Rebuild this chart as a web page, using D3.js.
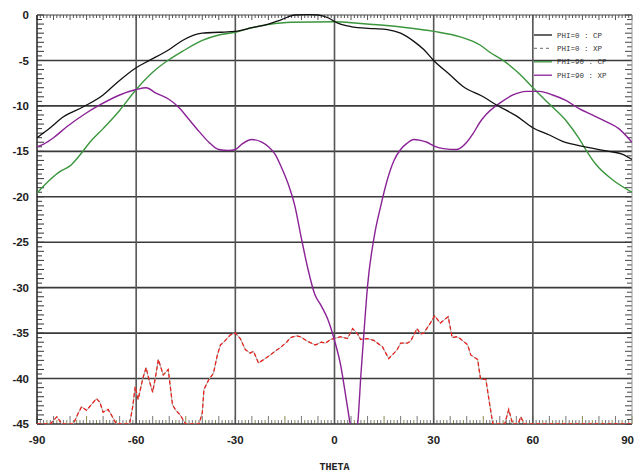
<!DOCTYPE html>
<html>
<head>
<meta charset="utf-8">
<script src="https://cdn.jsdelivr.net/npm/d3@7"></script>
<style>
  body { margin: 0; background: #fff; }
  svg { display: block; }
  .ticklabel { font-family: "Liberation Sans", Arial, sans-serif; font-weight: bold; font-size: 11.5px; fill: #222; }
  .legend text { font-family: "Liberation Mono", monospace; font-size: 7.5px; fill: #333; white-space: pre; }
</style>
</head>
<body>
<div id="chart"></div>
<script>
// 1: DATA
const xTicks = [-90, -60, -30, 0, 30, 60, 90];
const yTicks = [0, -5, -10, -15, -20, -25, -30, -35, -40, -45];

// PHI=0 : CP
const thetaCp0 = [-90, -86, -82, -76, -70, -66, -60, -56, -50, -46, -40, -35, -30, -25, -20, -16, -12, -8, -5, -2, 1, 4, 7, 12, 16, 20, 24, 27, 30, 35, 39, 45, 49, 55, 60, 65, 69, 73, 77, 83, 87, 90];
const cp0 = [-13.5, -12.4, -11.2, -10.1, -8.8, -7.5, -5.8, -5.0, -3.8, -2.8, -2.0, -1.9, -1.8, -1.4, -1.0, -0.5, 0.0, 0.05, 0.0, -0.3, -0.9, -1.2, -1.4, -1.5, -1.6, -2.0, -2.9, -3.8, -5.0, -6.6, -7.9, -9.0, -9.9, -11.1, -12.4, -13.2, -13.9, -14.3, -14.6, -15.0, -15.3, -15.9];

// PHI=0 : XP (noisy, floor at -45)
const thetaXp0 = [-90, -86, -84, -82.5, -79, -77.5, -76.5, -75, -72, -71, -70, -68.5, -67.5, -66, -62, -61, -60.3, -59.4, -58, -57, -56, -55, -54, -53.3, -51.8, -50.3, -49, -48, -46.7, -45, -41, -40, -39.5, -38, -36.6, -35.5, -34.5, -33, -31.5, -30, -28.5, -27, -25.5, -24.5, -23, -21, -19.4, -18, -16.4, -14.5, -13.3, -11.5, -10.3, -8.2, -7, -5.8, -4, -2.7, -1.2, 0, 1.8, 3.9, 5.5, 7, 7.9, 9.9, 11.9, 13, 14.5, 16.4, 18, 19, 20, 22, 23, 25, 26, 27, 29, 30.3, 32, 33, 34.4, 35.6, 37, 38, 40.3, 41.2, 43.3, 44.2, 45.8, 46.8, 47.9, 51.5, 52.7, 53.9, 55.5, 56.4, 57.3, 90];
const xp0 = [-45, -45, -44.2, -45, -45, -43.8, -43.1, -43.5, -42.2, -42.6, -43.7, -43.4, -44, -45, -45, -43, -40.9, -42.3, -40, -38.8, -40.3, -41.5, -39.5, -37.9, -39.6, -39, -42.9, -43.5, -44, -45, -45, -43.8, -41.2, -40.1, -39.4, -37.5, -36.3, -35.8, -35.2, -35, -35.6, -36.8, -37.2, -37.0, -38.3, -37.8, -37.4, -37.0, -36.6, -36.0, -35.5, -35.3, -35.4, -35.9, -36.1, -36.3, -36.0, -36.1, -35.7, -35.6, -35.4, -35.6, -34.5, -35.1, -35.7, -35.6, -35.8, -36.1, -36.5, -37.8, -37.2, -36.8, -36.1, -36.1, -35.9, -34.5, -35.1, -35.0, -33.9, -33.1, -33.9, -33.6, -33.2, -35.5, -35.4, -35.6, -36.3, -37.4, -37.9, -40.1, -40.1, -42.5, -45, -45, -43.4, -45, -45, -44.2, -45, -45];

// PHI=90 : CP
const thetaCp90 = [-90, -86, -83, -80, -77, -74, -70, -65, -60, -55, -50, -46, -40, -35, -30, -25, -20, -13, 0, 7, 14, 22, 30, 38, 44, 47, 51, 56, 60, 65, 70, 74, 76, 79, 84, 90];
const cp90 = [-19.6, -18.1, -17.2, -16.6, -15.4, -14.0, -12.5, -10.5, -8.2, -6.3, -4.9, -4.0, -2.8, -2.2, -1.9, -1.4, -1.05, -0.8, -0.75, -0.9, -1.1, -1.4, -1.8, -2.4, -3.3, -4.1, -5.0, -6.5, -8.0, -9.8, -11.6, -13.6, -14.8, -16.4, -18.1, -19.5];

// PHI=90 : XP
const thetaXp90 = [-90, -88, -85, -81, -76, -71, -65, -60, -57, -54, -50, -47, -44, -41, -38, -35, -32, -30, -28, -25, -22, -20, -18, -16, -14, -12, -10, -8, -6, -4, -2, 0, 2, 3, 4, 5, 6, 7, 8, 9, 10, 12, 14, 16, 18, 20, 22, 24, 26, 28, 30, 33, 37, 40, 42, 44, 46, 50, 54, 58, 62, 66, 70, 74, 78, 82, 86, 90];
const xp90 = [-14.5, -14.2, -13.5, -12.3, -11.0, -9.9, -8.8, -8.2, -8.0, -8.6, -9.3, -10.2, -11.5, -12.8, -14.0, -14.8, -14.9, -14.8, -14.2, -13.7, -14.0, -14.5, -15.3, -16.8, -18.6, -21.0, -24.6, -28.0, -30.7, -32.0, -33.5, -35.8, -38.8, -41.0, -43.3, -45.5, -46.5, -45.0, -39.5, -34.5, -29.8, -24.4, -21.0, -18.1, -16.0, -14.8, -14.1, -13.7, -13.8, -14.0, -14.4, -14.7, -14.8, -14.0, -13.0, -11.8, -10.9, -9.7, -8.8, -8.4, -8.4, -8.8, -9.4, -10.3, -11.0, -11.7, -12.5, -14.0];

const legendLabels = ["PHI=0 : CP", "PHI=0 : XP", "PHI=90 : CP", "PHI=90 : XP"];

// 2: LAYOUT
const W = 635, H = 474;
const margin = { top: 15, right: 3, bottom: 50, left: 37 };
const width = W - margin.left - margin.right;
const height = H - margin.top - margin.bottom;

const svg = d3.select("#chart").append("svg")
    .attr("width", W)
    .attr("height", H);

const g = svg.append("g")
    .attr("transform", `translate(${margin.left},${margin.top})`);

// 3: SCALES
const x = d3.scaleLinear().domain([-90, 90]).range([0, width]);
const y = d3.scaleLinear().domain([-45, 0]).range([height, 0]);

// 4: MINOR TICKS ON THE FRAME
const degTicks = d3.range(-90, 91, 1);
const dbTicks = d3.range(-45, 0.01, 0.5);

g.append("g").selectAll("line").data(degTicks).join("line")
    .attr("x1", d => x(d)).attr("x2", d => x(d))
    .attr("y1", 0).attr("y2", d => d % 5 === 0 ? 5 : 3)
    .attr("stroke", "#555").attr("stroke-width", 1);

g.append("g").selectAll("line").data(degTicks).join("line")
    .attr("x1", d => x(d)).attr("x2", d => x(d))
    .attr("y1", height).attr("y2", d => height - (d % 5 === 0 ? 8 : 4))
    .attr("stroke", (d, i) => i % 3 === 0 ? "#8a8a50" : "#777").attr("stroke-width", 1);

g.append("g").selectAll("line").data(dbTicks).join("line")
    .attr("x1", 0).attr("x2", d => d % 1 === 0 ? 7 : 5)
    .attr("y1", d => y(d)).attr("y2", d => y(d))
    .attr("stroke", "#333").attr("stroke-width", 1);

g.append("g").selectAll("line").data(dbTicks).join("line")
    .attr("x1", width).attr("x2", d => width - (d % 1 === 0 ? 7 : 5))
    .attr("y1", d => y(d)).attr("y2", d => y(d))
    .attr("stroke", "#444").attr("stroke-width", 1);

// 5: GRID
g.append("g").selectAll("line").data(yTicks.filter(d => d < 0 && d > -45)).join("line")
    .attr("x1", 0).attr("x2", width)
    .attr("y1", d => y(d)).attr("y2", d => y(d))
    .attr("stroke", "#3a3a3a").attr("stroke-width", 1.6);

g.append("g").selectAll("line").data(xTicks.filter(d => d > -90 && d < 90)).join("line")
    .attr("x1", d => x(d)).attr("x2", d => x(d))
    .attr("y1", 0).attr("y2", height)
    .attr("stroke", "#555").attr("stroke-width", 1.6);

// frame
g.append("line").attr("x1", 0).attr("x2", 0).attr("y1", 0).attr("y2", height)
    .attr("stroke", "#222").attr("stroke-width", 1.5);
g.append("line").attr("x1", 0).attr("x2", width).attr("y1", 0).attr("y2", 0)
    .attr("stroke", "#444").attr("stroke-width", 1.2);
g.append("line").attr("x1", width).attr("x2", width).attr("y1", 0).attr("y2", height)
    .attr("stroke", "#999").attr("stroke-width", 1);
g.append("line").attr("x1", 0).attr("x2", width).attr("y1", height).attr("y2", height)
    .attr("stroke", "#333").attr("stroke-width", 1.5);

// 6: CURVES
g.append("clipPath").attr("id", "plotClip")
    .append("rect").attr("x", 0).attr("y", -2).attr("width", width).attr("height", height + 2);

const plot = g.append("g").attr("clip-path", "url(#plotClip)");

const smooth = d3.line()
    .x(d => x(d[0]))
    .y(d => y(d[1]))
    .curve(d3.curveMonotoneX);

const jagged = d3.line()
    .x(d => x(d[0]))
    .y(d => y(Math.max(d[1], -45)));

const zip = (a, b) => a.map((t, i) => [t, b[i]]);

// PHI=0 XP: gray trace with red dashes on top
plot.append("path").datum(zip(thetaXp0, xp0))
    .attr("d", jagged)
    .attr("fill", "none").attr("stroke", "#aaa").attr("stroke-width", 1);
plot.append("path").datum(zip(thetaXp0, xp0))
    .attr("d", jagged)
    .attr("fill", "none").attr("stroke", "#e8231e").attr("stroke-width", 1.3)
    .attr("stroke-dasharray", "4,2.5");

plot.append("path").datum(zip(thetaCp90, cp90))
    .attr("d", smooth)
    .attr("fill", "none").attr("stroke", "#3a963c").attr("stroke-width", 1.4);

plot.append("path").datum(zip(thetaXp90, xp90))
    .attr("d", smooth)
    .attr("fill", "none").attr("stroke", "#8a2296").attr("stroke-width", 1.4);

plot.append("path").datum(zip(thetaCp0, cp0))
    .attr("d", smooth)
    .attr("fill", "none").attr("stroke", "#111").attr("stroke-width", 1.3);

// 7: TICK LABELS
g.append("g").selectAll("text").data(yTicks).join("text")
    .attr("class", "ticklabel")
    .attr("x", -8)
    .attr("y", d => y(d))
    .attr("dy", "0.36em")
    .attr("text-anchor", "end")
    .text(d => d);

// the last label sits at the window edge, so it is right-aligned to stay inside
g.append("g").selectAll("text").data(xTicks).join("text")
    .attr("class", "ticklabel")
    .attr("x", d => d === 90 ? x(d) + 2 : x(d))
    .attr("y", height + 20)
    .attr("text-anchor", d => d === 90 ? "end" : "middle")
    .text(d => d);

svg.append("text")
    .attr("x", margin.left + width / 2)
    .attr("y", 470)
    .attr("text-anchor", "middle")
    .style("font-family", "'Liberation Mono', monospace")
    .style("font-weight", "bold")
    .style("font-size", "10px")
    .style("fill", "#222")
    .text("THETA");

// 8: LEGEND
const legendStyles = [
    { color: "#111", dash: null },
    { color: "#888", dash: "3,3" },
    { color: "#3a963c", dash: null },
    { color: "#8a2296", dash: null }
];

const legend = svg.append("g").attr("class", "legend")
    .selectAll("g").data(legendLabels).join("g")
    .attr("transform", (d, i) => `translate(534, ${35 + i * 13.4})`);

legend.append("line")
    .attr("x1", 0).attr("x2", 18)
    .attr("stroke", (d, i) => legendStyles[i].color)
    .attr("stroke-width", 1.3)
    .attr("stroke-dasharray", (d, i) => legendStyles[i].dash);

legend.append("text")
    .attr("x", 23)
    .attr("dy", "0.35em")
    .text(d => d);
</script>
</body>
</html>
